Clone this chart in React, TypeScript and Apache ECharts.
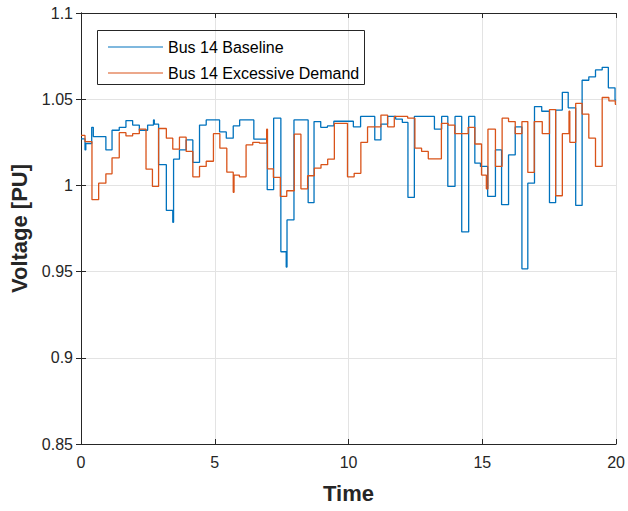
import React, { useEffect, useRef } from "react";
import * as echarts from "echarts";

const seriesNames = ["Bus 14 Baseline", "Bus 14 Excessive Demand"];

const baselineTimes = [
  0, 0.15, 0.18, 0.4, 0.46, 0.93, 1.16, 1.43, 1.68, 1.93, 2.18, 2.49, 2.71, 2.74, 2.9, 3.19, 3.43, 3.46,
  3.68, 3.93, 4.18, 4.43, 4.68, 5.18, 5.43, 5.69, 5.93, 6.46, 6.96, 7.2, 7.47, 7.67, 7.7, 7.96, 8.49,
  8.71, 8.96, 9.21, 9.45, 10.18, 10.45, 10.98, 11.21, 11.46, 11.76, 12.01, 12.22, 12.46, 13.21, 13.48,
  13.71, 13.98, 14.23, 14.49, 14.72, 14.93, 15.2, 15.49, 15.72, 15.98, 16.23, 16.48, 16.7, 16.95, 17.22,
  17.51, 17.74, 17.99, 18.21, 18.49, 18.73, 18.98, 19.23, 19.48, 19.71, 19.96, 20,
];
const baselineVolts = [
  1.027, 1.0206, 1.0243, 1.0337, 1.0283, 1.0206, 1.032, 1.0337, 1.0376, 1.035, 1.032, 1.035, 1.038,
  1.0356, 1.012, 0.9855, 0.9786, 1.0152, 1.0206, 1.0264, 1.0133, 1.035, 1.038, 1.031, 1.0274, 1.0345,
  1.038, 1.0268, 0.9975, 1.039, 0.9615, 0.9526, 0.98, 1.038, 0.99, 1.037, 1.0337, 1.0345, 1.0372, 1.034,
  1.04, 1.0264, 1.0356, 1.04, 1.0385, 1.0365, 0.993, 1.04, 1.0326, 1.04, 0.9994, 1.04, 0.973, 1.04,
  1.0129, 1.011, 0.9936, 1.0206, 0.9888, 1.0177, 1.034, 0.9516, 1.0013, 1.0457, 1.043, 0.99, 1.0437,
  1.054, 1.045, 0.9884, 1.061, 1.063, 1.067, 1.0685, 1.0566, 1.0495, 1.0495,
];

const demandTimes = [
  0, 0.15, 0.41, 0.66, 0.93, 1.16, 1.43, 1.68, 1.93, 2.18, 2.43, 2.67, 2.9, 3.19, 3.43, 3.68, 3.93, 4.18,
  4.43, 4.68, 4.95, 5.19, 5.45, 5.69, 5.72, 5.92, 6.17, 6.42, 6.67, 6.94, 6.97, 7.19, 7.45, 7.69, 7.97,
  8.22, 8.47, 8.72, 8.97, 9.22, 9.47, 9.96, 10.21, 10.46, 10.71, 11.21, 11.46, 11.71, 12.21, 12.48,
  12.73, 12.98, 13.47, 13.72, 13.97, 14.47, 14.72, 14.97, 15.15, 15.21, 15.49, 15.74, 15.98, 16.23,
  16.48, 16.7, 16.94, 17.24, 17.51, 17.74, 17.99, 18.24, 18.27, 18.49, 18.73, 18.98, 19.23, 19.48,
  19.73, 19.97, 20,
];
const demandVolts = [
  1.029, 1.0254, 0.9917, 1.0013, 1.0067, 1.016, 1.0306, 1.0287, 1.03, 1.0326, 1.0094, 0.9994, 1.033,
  1.0274, 1.021, 1.028, 1.0197, 1.005, 1.011, 1.014, 1.03, 1.0216, 1.0077, 0.996, 1.006, 1.005, 1.0235,
  1.025, 1.0245, 1.0326, 1.0096, 1.0046, 0.9936, 0.9969, 1.0297, 0.998, 1.0056, 1.01, 1.012, 1.0152,
  1.036, 1.005, 1.007, 1.025, 1.034, 1.0408, 1.034, 1.04, 1.039, 1.0216, 1.0197, 1.0154, 1.036, 1.035,
  1.03, 1.0337, 1.024, 1.006, 0.998, 1.0326, 1.011, 1.039, 1.037, 1.03, 1.037, 1.0075, 1.037, 1.03,
  1.044, 0.994, 1.03, 1.043, 1.025, 1.0476, 1.0414, 1.0274, 1.011, 1.051, 1.049, 1.047, 1.047,
];

const xTicks = { min: 0, max: 20, interval: 5 };
const yTicks = { min: 0.85, max: 1.1, interval: 0.05 };

const colors = ["#0072BD", "#D95319"];

export default function App() {
  const ref = useRef<HTMLDivElement>(null);
  useEffect(() => {
    if (!ref.current) return;
    const chart = echarts.init(ref.current, null, { renderer: "svg" });
    const font = "'Liberation Sans', Arial, Helvetica, sans-serif";
    const axisColor = "#262626";
    const fmtY = (v: number) => String(parseFloat(v.toFixed(2)));
    const baseX = {
      type: "value",
      min: xTicks.min,
      max: xTicks.max,
      interval: xTicks.interval,
    };
    const baseY = {
      type: "value",
      min: yTicks.min,
      max: yTicks.max,
      interval: yTicks.interval,
    };
    const iconPath = "path://M0,6.4 L55,6.4 L55,7.6 L0,7.6 Z";
    chart.setOption({
      animation: false,
      color: colors,
      textStyle: { fontFamily: font },
      grid: { left: 81, right: 9, top: 13, bottom: 67, show: false },
      legend: {
        orient: "vertical",
        left: 103,
        top: 34,
        itemWidth: 55,
        itemHeight: 14,
        itemGap: 10,
        textStyle: { fontFamily: font, fontSize: 16, color: "#000" },
        data: seriesNames.map((n, i) => ({
          name: n,
          icon: iconPath,
          itemStyle: { color: colors[i], borderWidth: 0 },
        })),
      },
      graphic: [
        {
          type: "rect",
          shape: { x: 97.5, y: 30.5, width: 267, height: 54 },
          style: { fill: "none", stroke: axisColor, lineWidth: 1 },
          z: 100,
        },
      ],
      xAxis: [
        {
          ...baseX,
          position: "bottom",
          name: "Time",
          nameLocation: "middle",
          nameGap: 38,
          nameTextStyle: { fontFamily: font, fontSize: 22, fontWeight: "bold", color: axisColor },
          axisLine: { show: true, lineStyle: { color: axisColor, width: 1 } },
          axisTick: { show: true, inside: true, length: 5, lineStyle: { color: axisColor } },
          axisLabel: { fontFamily: font, fontSize: 16, color: axisColor, margin: 10 },
          splitLine: { show: true, lineStyle: { color: "#e3e3e3", width: 1 } },
        },
        {
          ...baseX,
          position: "top",
          axisLine: { show: true, lineStyle: { color: axisColor, width: 1 } },
          axisTick: { show: true, inside: true, length: 5, lineStyle: { color: axisColor } },
          axisLabel: { show: false },
          splitLine: { show: false },
        },
      ],
      yAxis: [
        {
          ...baseY,
          position: "left",
          name: "Voltage [PU]",
          nameLocation: "middle",
          nameGap: 42,
          nameTextStyle: { fontFamily: font, fontSize: 22, fontWeight: "bold", color: axisColor },
          axisLine: { show: true, lineStyle: { color: axisColor, width: 1 } },
          axisTick: { show: true, inside: true, length: 5, lineStyle: { color: axisColor } },
          axisLabel: { fontFamily: font, fontSize: 16, color: axisColor, margin: 8, formatter: fmtY },
          splitLine: { show: true, lineStyle: { color: "#e3e3e3", width: 1 } },
        },
        {
          ...baseY,
          position: "right",
          axisLine: { show: true, lineStyle: { color: axisColor, width: 1 } },
          axisTick: { show: true, inside: true, length: 5, lineStyle: { color: axisColor } },
          axisLabel: { show: false },
          splitLine: { show: false },
        },
      ],
      series: [
        {
          name: seriesNames[0],
          type: "line",
          step: "end",
          symbol: "none",
          itemStyle: { color: colors[0] },
          lineStyle: { width: 1.3, color: colors[0] },
          data: baselineTimes.map((t, i) => [t, baselineVolts[i]]),
          z: 3,
        },
        {
          name: seriesNames[1],
          type: "line",
          step: "end",
          symbol: "none",
          itemStyle: { color: colors[1] },
          lineStyle: { width: 1.3, color: colors[1] },
          data: demandTimes.map((t, i) => [t, demandVolts[i]]),
          z: 4,
        },
      ],
    });
    return () => chart.dispose();
  }, []);
  return <div ref={ref} style={{ width: 628, height: 511, position: "absolute", left: 0, top: 0, background: "#fff" }} />;
}
